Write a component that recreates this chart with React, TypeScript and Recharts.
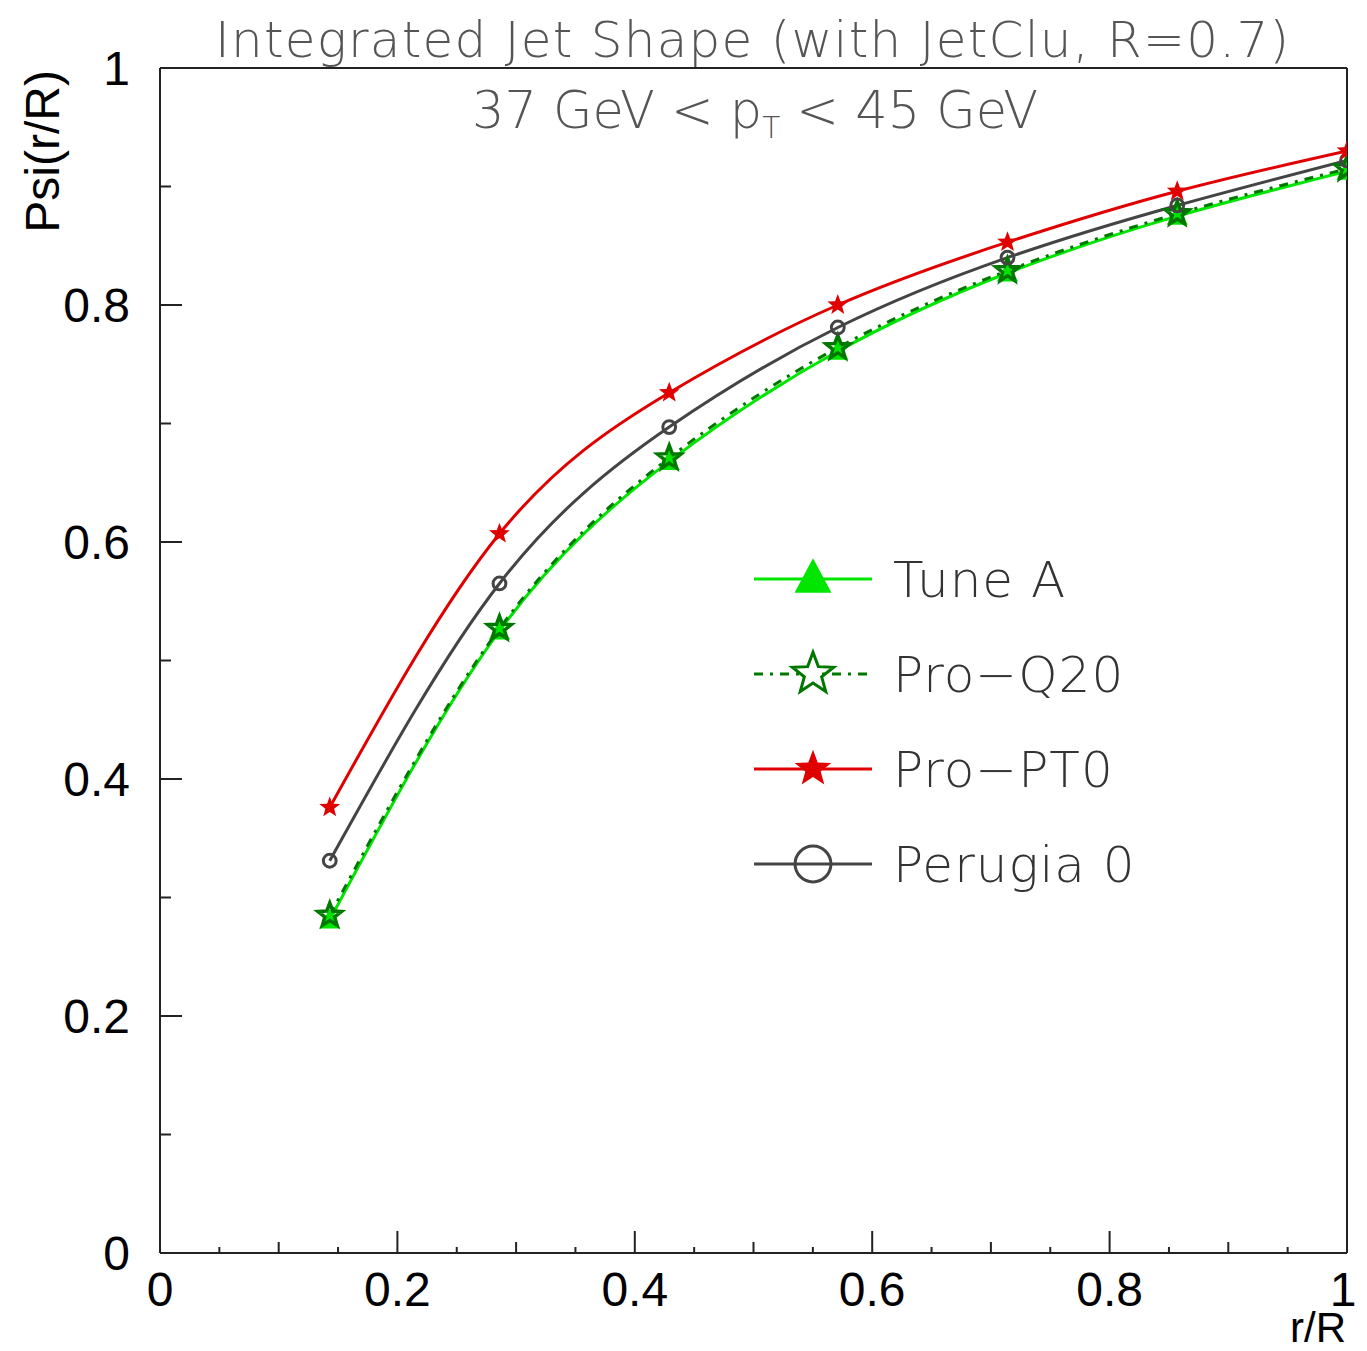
import React from 'react'
import { LineChart, Line, XAxis, YAxis, ReferenceLine, Legend } from 'recharts'

// r/R bin centres and Psi(r/R) per tune
const rR = [0.143, 0.286, 0.429, 0.571, 0.714, 0.857, 1.0]
const tuneA = [0.281, 0.525, 0.668, 0.761, 0.827, 0.875, 0.913]
const proQ20 = [0.285, 0.527, 0.671, 0.764, 0.829, 0.877, 0.915]
const proPT0 = [0.376, 0.607, 0.726, 0.800, 0.853, 0.896, 0.930]
const perugia0 = [0.331, 0.565, 0.697, 0.781, 0.840, 0.884, 0.922]

const xTicks = [0, 0.05, 0.1, 0.15, 0.2, 0.25, 0.3, 0.35, 0.4, 0.45, 0.5, 0.55, 0.6, 0.65, 0.7, 0.75, 0.8, 0.85, 0.9, 0.95, 1]
const yTicks = [0, 0.1, 0.2, 0.3, 0.4, 0.5, 0.6, 0.7, 0.8, 0.9, 1]
const majorLabels = ['0', '0.2', '0.4', '0.6', '0.8', '1']

const data = rR.map((r, i) => ({
  r,
  tuneA: tuneA[i],
  proQ20: proQ20[i],
  proPT0: proPT0[i],
  perugia0: perugia0[i],
}))

const GREEN = '#00e600'
const DKGREEN = '#007800'
const RED = '#e00000'
const GRAY = '#444444'
const AXIS = '#222'
const LABEL_FONT = '"Liberation Sans", Arial, sans-serif'
const THIN_FONT = '"DejaVu Sans", sans-serif'

const starPath = (cx: number, cy: number, R: number, r: number) => {
  let d = ''
  for (let i = 0; i < 10; i++) {
    const rad = i % 2 === 0 ? R : r
    const a = -Math.PI / 2 + (i * Math.PI) / 5
    d += (i === 0 ? 'M' : 'L') + (cx + rad * Math.cos(a)).toFixed(2) + ',' + (cy + rad * Math.sin(a)).toFixed(2)
  }
  return d + 'Z'
}

const Marker = ({ kind, cx, cy, s }: { kind: string; cx: number; cy: number; s: number }) => {
  if (kind === 'tuneA') {
    return (
      <path
        d={`M${cx},${cy - s * 0.6} L${cx + s * 0.56},${cy + s * 0.45} L${cx - s * 0.56},${cy + s * 0.45} Z`}
        fill={GREEN}
      />
    )
  }
  if (kind === 'proQ20') {
    return <path d={starPath(cx, cy, s * 0.62, s * 0.26)} fill="none" stroke={DKGREEN} strokeWidth={s > 25 ? 3 : 3.5} />
  }
  if (kind === 'proPT0') {
    return <path d={starPath(cx, cy, s * 0.55, s * 0.23)} fill={RED} />
  }
  return <circle cx={cx} cy={cy} r={s * 0.32} fill="none" stroke={GRAY} strokeWidth={3} />
}

const dotFor = (kind: string, s: number) => (props: any) => {
  const { cx, cy, index } = props
  if (cx == null || cy == null) return <g key={kind + index} />
  return (
    <g key={kind + index}>
      <Marker kind={kind} cx={cx} cy={cy} s={s} />
    </g>
  )
}

const XTick = (props: any) => {
  const { x, y, payload, index } = props
  const v = payload.value
  const len = index % 4 === 0 ? 22 : index % 2 === 0 ? 11 : 6
  const lab = index % 4 === 0 ? majorLabels[index / 4] : null
  return (
    <g>
      <line x1={x} x2={x} y1={y} y2={y - len} stroke={AXIS} strokeWidth={2} />
      {lab != null && (
        <text x={v === 1 ? x - 4 : x} y={y + 53} textAnchor="middle" fontFamily={LABEL_FONT} fontSize={48} fill="#000">
          {lab}
        </text>
      )}
    </g>
  )
}

const YTick = (props: any) => {
  const { x, y, index } = props
  const len = index % 2 === 0 ? 22 : 11
  const lab = index % 2 === 0 ? majorLabels[index / 2] : null
  return (
    <g>
      <line x1={x} x2={x + len} y1={y} y2={y} stroke={AXIS} strokeWidth={2} />
      {lab != null && (
        <text x={x - 30} y={y + 17} textAnchor="end" fontFamily={LABEL_FONT} fontSize={48} fill="#000">
          {lab}
        </text>
      )}
    </g>
  )
}

const legendOrder = ['tuneA', 'proQ20', 'proPT0', 'perugia0']
const legendSize: Record<string, number> = { tuneA: 33, proQ20: 35, proPT0: 35, perugia0: 56 }

const renderLegend = (props: any) => {
  const items = [...(props.payload || [])].sort(
    (a: any, b: any) => legendOrder.indexOf(a.dataKey) - legendOrder.indexOf(b.dataKey)
  )
  return (
    <svg width={420} height={360}>
      {items.map((it: any, i: number) => {
        const cy = 39 + i * 95
        return (
          <g key={it.dataKey}>
            <line
              x1={14}
              x2={132}
              y1={cy}
              y2={cy}
              stroke={it.color}
              strokeWidth={3}
              strokeDasharray={it.dataKey === 'proQ20' ? '9 7 3 7' : undefined}
            />
            {it.dataKey === 'proQ20' && <circle cx={73} cy={cy + 1} r={9} fill="#fff" />}
            <Marker kind={it.dataKey} cx={73} cy={it.dataKey === 'tuneA' ? cy - 1 : cy} s={legendSize[it.dataKey]} />
            <text x={153} y={cy + 18} fontFamily={THIN_FONT} fontWeight={200} fontSize={50} fill="#333" letterSpacing={1}>
              {it.value}
            </text>
          </g>
        )
      })}
    </svg>
  )
}

export default function App() {
  return (
    <div style={{ position: 'absolute', left: 0, top: 0, width: 1367, height: 1351, background: '#fff' }}>
      <LineChart width={1367} height={1351} data={data} margin={{ top: 68, right: 20, left: 0, bottom: 0 }}>
        <XAxis
          dataKey="r"
          type="number"
          domain={[0, 1]}
          ticks={xTicks}
          interval={0}
          height={98}
          tickSize={0}
          tickMargin={0}
          tickLine={false}
          axisLine={{ stroke: AXIS, strokeWidth: 2 }}
          tick={<XTick />}
          allowDataOverflow
        />
        <YAxis
          type="number"
          domain={[0, 1]}
          ticks={yTicks}
          interval={0}
          width={160}
          tickSize={0}
          tickMargin={0}
          tickLine={false}
          axisLine={{ stroke: AXIS, strokeWidth: 2 }}
          tick={<YTick />}
          allowDataOverflow
        />
        <ReferenceLine y={1} stroke={AXIS} strokeWidth={2} />
        <ReferenceLine x={1} stroke={AXIS} strokeWidth={2} />
        <Line
          type="natural"
          dataKey="tuneA"
          name="Tune A"
          stroke={GREEN}
          strokeWidth={3}
          dot={dotFor('tuneA', 19)}
          isAnimationActive={false}
        />
        <Line
          type="natural"
          dataKey="proQ20"
          name="Pro−Q20"
          stroke={DKGREEN}
          strokeWidth={3}
          strokeDasharray="9 7 3 7"
          dot={dotFor('proQ20', 20)}
          isAnimationActive={false}
        />
        <Line
          type="natural"
          dataKey="perugia0"
          name="Perugia 0"
          stroke={GRAY}
          strokeWidth={3}
          dot={dotFor('perugia0', 20)}
          isAnimationActive={false}
        />
        <Line
          type="natural"
          dataKey="proPT0"
          name="Pro−PT0"
          stroke={RED}
          strokeWidth={3}
          dot={dotFor('proPT0', 20)}
          isAnimationActive={false}
        />
        <Legend
          layout="horizontal"
          verticalAlign="middle"
          content={renderLegend}
          wrapperStyle={{ position: 'absolute', left: 740, top: 540, width: 420, height: 360 }}
        />
      </LineChart>
      <svg width={1367} height={1351} style={{ position: 'absolute', left: 0, top: 0, pointerEvents: 'none' }}>
        <text
          x={752}
          y={57}
          textAnchor="middle"
          fontFamily={THIN_FONT}
          fontWeight={200}
          fontSize={50}
          fill="#555"
          textLength={1074}
          lengthAdjust="spacing"
        >
          Integrated Jet Shape (with JetClu, R=0.7)
        </text>
        <text
          x={472}
          y={128}
          fontFamily={THIN_FONT}
          fontWeight={200}
          fontSize={52}
          fill="#555"
          textLength={566}
          lengthAdjust="spacingAndGlyphs"
        >
          37 GeV &lt; p<tspan fontSize={30} dy={10}>T</tspan>
          <tspan dy={-10}> &lt; 45 GeV</tspan>
        </text>
        <text
          x={42}
          y={70}
          transform="rotate(-90 42 70)"
          textAnchor="end"
          dominantBaseline="central"
          fontFamily={LABEL_FONT}
          fontSize={48}
          fill="#000"
        >
          Psi(r/R)
        </text>
        <text x={1346} y={1342} textAnchor="end" fontFamily={LABEL_FONT} fontSize={42} fill="#000">
          r/R
        </text>
      </svg>
    </div>
  )
}
